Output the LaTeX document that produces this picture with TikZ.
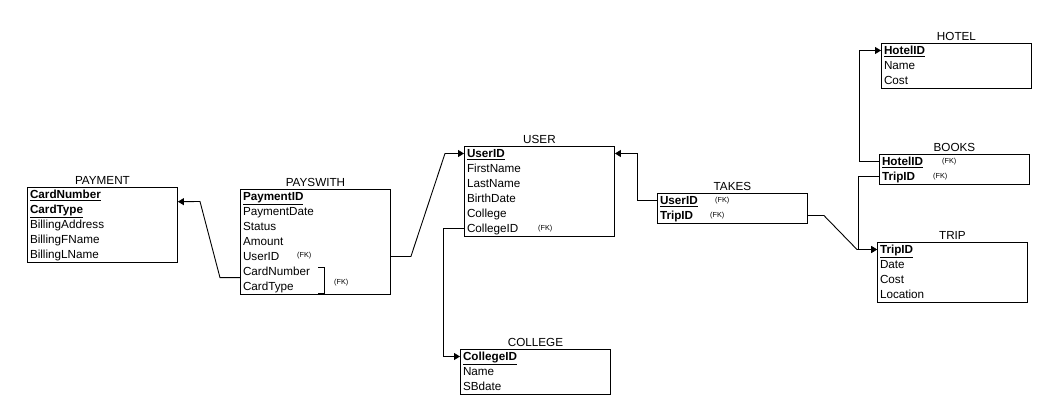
\documentclass[tikz,border=0pt]{standalone}
\usepackage{fontspec}
\setmainfont{Liberation Sans}
\usetikzlibrary{positioning,arrows.meta}

\begin{document}
\begin{tikzpicture}[x=1pt,y=-1pt,node distance=15pt,font=\fontsize{11.7}{13}\selectfont,
    tbl/.style={draw,line width=0.9pt,rectangle,minimum width=150pt,inner sep=0pt,anchor=north west},
    row/.style={inner sep=0pt,text width=144pt,align=left,text height=8pt,text depth=0pt,on grid},
    ttl/.style={inner sep=0pt},
    fk/.style={inner sep=0pt,anchor=west,font=\fontsize{7.3}{9}\selectfont},
    link/.style={line width=0.9pt,-{Triangle[length=6pt,width=7pt]}}]

    \useasboundingbox (0,0) rectangle (1057,419);

            % PAYMENT
            \node[tbl, minimum height=75pt] (pay) at (27,187) {};
            \node[ttl, above=2pt of pay] (payt) {PAYMENT};
            \node[row] (pay1) at (102,194.5) {\underline{\textbf{CardNumber}}};
            \node[row, below=of pay1] (pay2) {\underline{\textbf{CardType}}};
            \node[row, below=of pay2] (pay3) {BillingAddress};
            \node[row, below=of pay3] (pay4) {BillingFName};
            \node[row, below=of pay4] (pay5) {BillingLName};

            % PAYSWITH
            \node[tbl, minimum height=105pt] (pw) at (240,189) {};
            \node[ttl, above=2pt of pw] (pwt) {PAYSWITH};
            \node[row] (pw1) at (315,196.5) {\underline{\textbf{PaymentID}}};
            \node[row, below=of pw1] (pw2) {PaymentDate};
            \node[row, below=of pw2] (pw3) {Status};
            \node[row, below=of pw3] (pw4) {Amount};
            \node[row, below=of pw4] (pw5) {UserID};
            \node[row, below=of pw5] (pw6) {CardNumber};
            \node[row, below=of pw6] (pw7) {CardType};
            \node[fk] (pwfk1) at (297,256) {(FK)};
            \node[fk] (pwfk2) at (334,283) {(FK)};
            \draw[line width=0.8pt] (318,267) -- (324,267) -- (324,293) -- (318,293);

            % USER
            \node[tbl, minimum height=90pt] (usr) at (464,146) {};
            \node[ttl, above=2pt of usr] (usrt) {USER};
            \node[row] (usr1) at (539,153.5) {\underline{\textbf{UserID}}};
            \node[row, below=of usr1] (usr2) {FirstName};
            \node[row, below=of usr2] (usr3) {LastName};
            \node[row, below=of usr3] (usr4) {BirthDate};
            \node[row, below=of usr4] (usr5) {College};
            \node[row, below=of usr5] (usr6) {CollegeID};
            \node[fk] (usrfk) at (538,228.5) {(FK)};

            % TAKES
            \node[tbl, minimum height=30pt] (tk) at (657,193) {};
            \node[ttl, above=2pt of tk] (tkt) {TAKES};
            \node[row] (tk1) at (732,200.5) {\underline{\textbf{UserID}}};
            \node[row, below=of tk1] (tk2) {\underline{\textbf{TripID}}};
            \node[fk] (tkfk1) at (715,200.5) {(FK)};
            \node[fk] (tkfk2) at (710,215.5) {(FK)};

            % COLLEGE
            \node[tbl, minimum height=45pt] (col) at (460,349) {};
            \node[ttl, above=2pt of col] (colt) {COLLEGE};
            \node[row] (col1) at (535,356.5) {\underline{\textbf{CollegeID}}};
            \node[row, below=of col1] (col2) {Name};
            \node[row, below=of col2] (col3) {SBdate};

            % HOTEL
            \node[tbl, minimum height=45pt] (ht) at (881,43) {};
            \node[ttl, above=2pt of ht] (htt) {HOTEL};
            \node[row] (ht1) at (956,50.5) {\underline{\textbf{HotelID}}};
            \node[row, below=of ht1] (ht2) {Name};
            \node[row, below=of ht2] (ht3) {Cost};

            % BOOKS
            \node[tbl, minimum height=30pt] (bk) at (879,154) {};
            \node[ttl, above=2pt of bk] (bkt) {BOOKS};
            \node[row] (bk1) at (954,161.5) {\underline{\textbf{HotelID}}};
            \node[row, below=of bk1] (bk2) {\underline{\textbf{TripID}}};
            \node[fk] (bkfk1) at (942,161.5) {(FK)};
            \node[fk] (bkfk2) at (933,176.5) {(FK)};

            % TRIP
            \node[tbl, minimum height=60pt] (trip) at (877,242) {};
            \node[ttl, above=2pt of trip] (tript) {TRIP};
            \node[row] (trip1) at (952,249.5) {\underline{\textbf{TripID}}};
            \node[row, below=of trip1] (trip2) {Date};
            \node[row, below=of trip2] (trip3) {Cost};
            \node[row, below=of trip3] (trip4) {Location};

            % links
            \draw[link] ([yshift=-2pt]pw6.south -| pw.west) -- ++(-20,0) -- (200,201.5) -- ([yshift=-3pt]pay1.south -| pay.east);
            \draw[link] (pw.east |- pw5) -- ++(20,0) -- (445,153.5) -- (usr.west |- usr1);
            \draw[link] (tk.west |- tk1) -- ++(-20,0) |- (usr.east |- usr1);
            \draw[link] (usr.west |- usr6) -- ++(-21,0) |- (col.west |- col1);
            \draw[link] (tk.east |- tk2) -- ++(16,0) -- (857,249.5) -- (trip.west |- trip1);
            \draw[link] (bk.west |- bk1) -- ++(-20,0) |- (ht.west |- ht1);
            \draw[link] (bk.west |- bk2) -- ++(-21,0) |- (trip.west |- trip1);

        \end{tikzpicture}
\end{document}
